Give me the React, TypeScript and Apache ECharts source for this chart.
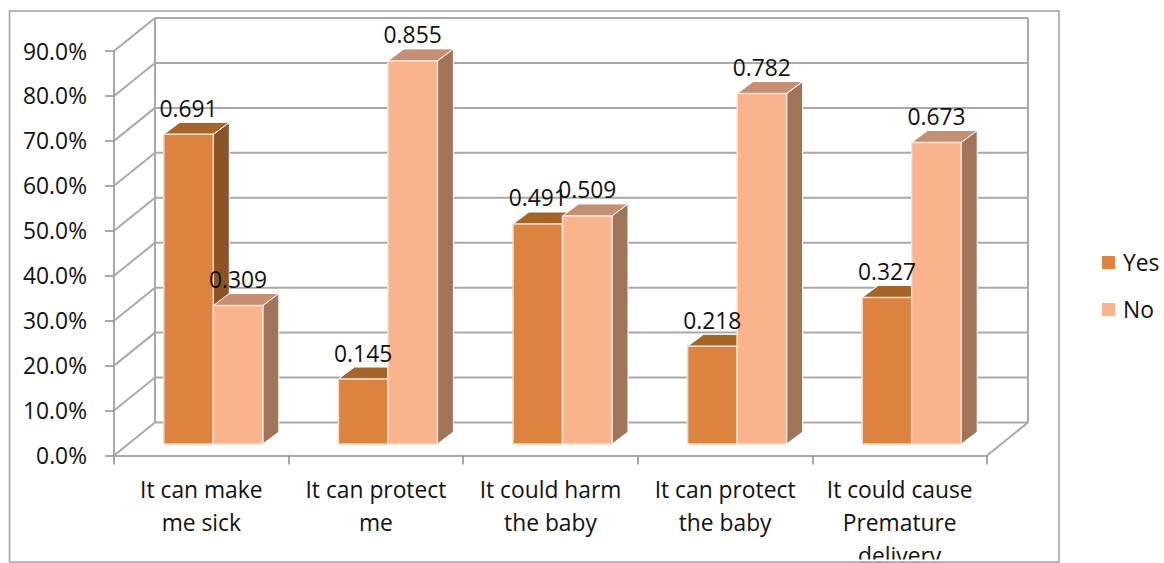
import React, { useEffect, useRef } from "react";
import * as echarts from "echarts";

const categories = [
  "It can make\nme sick",
  "It can protect\nme",
  "It could harm\nthe baby",
  "It can protect\nthe baby",
  "It could cause\nPremature\ndelivery",
];
const yesValues = [0.691, 0.145, 0.491, 0.218, 0.327];
const noValues = [0.309, 0.855, 0.509, 0.782, 0.673];
const axisTicks = [0, 0.1, 0.2, 0.3, 0.4, 0.5, 0.6, 0.7, 0.8, 0.9];

const FONT = "Open Sans";
const FONT_SIZE = 22.8;
const GRID_COLOR = "#A9A9A9";

// Oblique projection used for the fake 3D box
const WALL_DX = 41;
const WALL_DY = -33;
const BAR_PLANE_DX = 12;
const BAR_PLANE_DY = -11.5;
const BAR_DEPTH_DX = 16;
const BAR_DEPTH_DY = -12;
const BAR_WIDTH = 49.5;
const HEIGHT_FACTOR = 0.997;

const yesShades = { front: "#DC843F", top: "#A66528", side: "#8B5328", edge: "#F6DCC6" };
const noShades = { front: "#F9B38D", top: "#C58F72", side: "#A07459", edge: "#FBE3D5" };

function renderWall(params: any, api: any) {
  const v = api.value(1);
  const cs = params.coordSys;
  const y = api.coord([0, v])[1];
  const x0 = cs.x;
  const x1 = cs.x + cs.width;
  const style = { stroke: GRID_COLOR, lineWidth: 2, fill: "none" };
  const line = (a: number[], b: number[]) => ({
    type: "line",
    shape: { x1: a[0], y1: a[1], x2: b[0], y2: b[1] },
    style,
  });
  const children: any[] = [
    line([x0, y], [x0 + WALL_DX, y + WALL_DY]),
    line([x0 + WALL_DX, y + WALL_DY], [x1 + WALL_DX, y + WALL_DY]),
  ];
  if (v === 0) {
    const top = cs.y + WALL_DY;
    children.push(line([x1, y], [x1 + WALL_DX, y + WALL_DY]));
    children.push(line([x0 + WALL_DX, y + WALL_DY], [x0 + WALL_DX, top]));
    children.push(line([x1 + WALL_DX, y + WALL_DY], [x1 + WALL_DX, top]));
  }
  return { type: "group", children };
}

function barFrontRect(api: any, slot: number) {
  const i = api.value(0);
  const v = api.value(1);
  const base = api.coord([i, 0]);
  const tip = api.coord([i, v]);
  const baseY = base[1] + BAR_PLANE_DY;
  const topY = baseY + (tip[1] - base[1]) * HEIGHT_FACTOR;
  const left = base[0] + BAR_PLANE_DX + slot * BAR_WIDTH;
  return { left, right: left + BAR_WIDTH, topY, baseY };
}

function makeBarRenderer(slot: number, shades: typeof yesShades) {
  return (_params: any, api: any) => {
    const { left, right, topY, baseY } = barFrontRect(api, slot);
    const dx = BAR_DEPTH_DX;
    const dy = BAR_DEPTH_DY;
    return {
      type: "group",
      children: [
        {
          type: "polygon",
          shape: { points: [[right, topY], [right + dx, topY + dy], [right + dx, baseY + dy], [right, baseY]] },
          style: { fill: shades.side, stroke: "#FFFFFF", lineWidth: 1 },
        },
        {
          type: "polygon",
          shape: { points: [[left, topY], [left + dx, topY + dy], [right + dx, topY + dy], [right, topY]] },
          style: { fill: shades.top, stroke: "#FFFFFF", lineWidth: 1 },
        },
        {
          type: "rect",
          shape: { x: left, y: topY, width: BAR_WIDTH, height: baseY - topY },
          style: { fill: shades.front, stroke: shades.edge, lineWidth: 1.5 },
        },
      ],
    };
  };
}

function makeLabelRenderer(slot: number) {
  return (_params: any, api: any) => {
    const { left, topY } = barFrontRect(api, slot);
    return {
      type: "text",
      style: {
        text: api.value(1).toFixed(3),
        x: left + BAR_WIDTH / 2,
        y: topY - 26,
        align: "center",
        verticalAlign: "middle",
        fontFamily: FONT,
        fontSize: FONT_SIZE,
        fill: "#111111",
      },
    };
  };
}

const toPoints = (values: number[]) => values.map((v, i) => [i, v]);

export default function App() {
  const ref = useRef<HTMLDivElement>(null);

  useEffect(() => {
    document.body.style.margin = "0";
    const chart = echarts.init(ref.current!, undefined, { renderer: "svg" });
    chart.setOption({
      animation: false,
      backgroundColor: "#FFFFFF",
      grid: { left: 114, right: 177, top: 51, bottom: 107.5, containLabel: false, outerBoundsMode: "none" },
      legend: {
        orient: "vertical",
        left: 1102,
        top: 251,
        padding: 0,
        itemWidth: 13,
        itemHeight: 13,
        itemGap: 24,
        icon: "rect",
        data: ["Yes", "No"],
        textStyle: { fontFamily: FONT, fontSize: FONT_SIZE, color: "#111111", padding: [0, 0, 0, 3] },
      },
      xAxis: {
        type: "category",
        data: categories,
        axisLine: { lineStyle: { color: GRID_COLOR, width: 2 } },
        axisTick: { show: true, length: 9, lineStyle: { color: "#8C8C8C", width: 1.5 } },
        axisLabel: {
          interval: 0,
          margin: 17,
          lineHeight: 33,
          fontFamily: FONT,
          fontSize: FONT_SIZE,
          color: "#111111",
        },
      },
      yAxis: {
        type: "value",
        min: 0,
        max: 0.9,
        interval: 0.1,
        splitLine: { show: false },
        axisLine: { show: true, lineStyle: { color: GRID_COLOR, width: 2 } },
        axisTick: { show: true, length: 9, lineStyle: { color: "#8C8C8C", width: 1.5 } },
        axisLabel: {
          margin: 27,
          fontFamily: FONT,
          fontSize: FONT_SIZE,
          color: "#111111",
          formatter: (v: number) => (v * 100).toFixed(1) + "%",
        },
      },
      series: [
        {
          name: "walls",
          type: "custom",
          z: 1,
          silent: true,
          renderItem: renderWall,
          encode: { x: 0, y: 1 },
          data: axisTicks.map((t) => [0, t]),
        },
        {
          name: "Yes",
          type: "custom",
          z: 3,
          itemStyle: { color: yesShades.front },
          renderItem: makeBarRenderer(-1, yesShades),
          encode: { x: 0, y: 1 },
          data: toPoints(yesValues),
        },
        {
          name: "No",
          type: "custom",
          z: 4,
          itemStyle: { color: noShades.front },
          renderItem: makeBarRenderer(0, noShades),
          encode: { x: 0, y: 1 },
          data: toPoints(noValues),
        },
        {
          name: "yesLabels",
          type: "custom",
          z: 6,
          renderItem: makeLabelRenderer(-1),
          encode: { x: 0, y: 1 },
          data: toPoints(yesValues),
        },
        {
          name: "noLabels",
          type: "custom",
          z: 6,
          renderItem: makeLabelRenderer(0),
          encode: { x: 0, y: 1 },
          data: toPoints(noValues),
        },
      ],
      graphic: [
        {
          type: "rect",
          z: 100,
          silent: true,
          shape: { x: 10, y: 559.5, width: 1048, height: 3 },
          style: { fill: "#FFFFFF" },
        },
        {
          type: "rect",
          z: 101,
          silent: true,
          shape: { x: 9.5, y: 11, width: 1049.5, height: 551 },
          style: { fill: "none", stroke: "#A0A0A0", lineWidth: 1.5 },
        },
      ],
    });
    return () => chart.dispose();
  }, []);

  return <div ref={ref} style={{ width: 1164, height: 563 }} />;
}
